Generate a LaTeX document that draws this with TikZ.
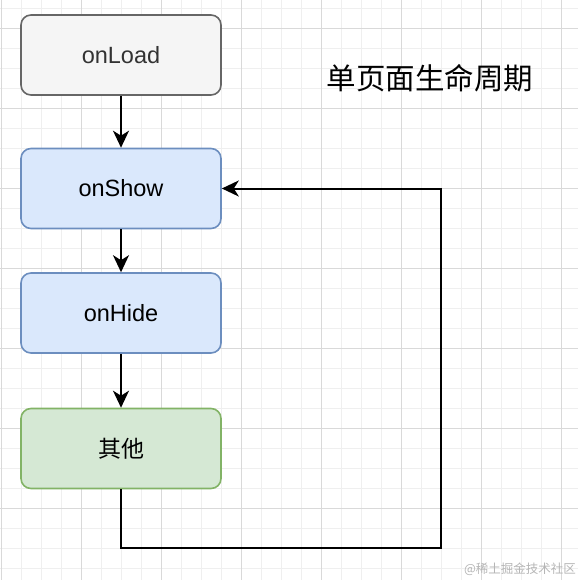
\documentclass[tikz,border=0pt]{standalone}
\usepackage{fontspec}
\setmainfont{Liberation Sans}
\newfontfamily\cjk{Noto Sans CJK SC}
\usetikzlibrary{arrows.meta}
\definecolor{gridminor}{HTML}{EFEFEF}
\definecolor{gridmajor}{HTML}{D9D9D9}
\definecolor{grayfill}{HTML}{F5F5F5}
\definecolor{graystroke}{HTML}{666666}
\definecolor{grayfont}{HTML}{333333}
\definecolor{bluefill}{HTML}{DAE8FC}
\definecolor{bluestroke}{HTML}{6C8EBF}
\definecolor{greenfill}{HTML}{D5E8D4}
\definecolor{greenstroke}{HTML}{82B366}
\definecolor{wmark}{HTML}{B5B5B5}
\tikzset{
  box/.style={rectangle, rounded corners=10pt, minimum width=200pt, minimum height=80pt, line width=1.6pt, inner sep=0pt, font=\fontsize{23.5}{27}\selectfont},
  graybox/.style={box, fill=grayfill, draw=graystroke, text=grayfont},
  bluebox/.style={box, fill=bluefill, draw=bluestroke, text=black},
  greenbox/.style={box, fill=greenfill, draw=greenstroke, text=black},
  arr/.style={line width=2pt, -{Stealth[length=17pt, width=16pt, inset=5pt]}}
}
\begin{document}
\begin{tikzpicture}[x=1pt, y=-1pt]
\useasboundingbox (0,0) rectangle (578,580);
% grid
\foreach \x in {1,21,...,577} \draw[gridminor, line width=0.8pt] (\x,0) -- (\x,580);
\foreach \y in {8,28,...,580} \draw[gridminor, line width=0.8pt] (0,\y) -- (578,\y);
\foreach \x in {1,81,...,577} \draw[gridmajor, line width=0.9pt] (\x,0) -- (\x,580);
\foreach \y in {28,108,...,580} \draw[gridmajor, line width=0.9pt] (0,\y) -- (578,\y);
% nodes
\node[graybox] (load) at (121,55) {onLoad};
\node[bluebox] (show) at (121,188.5) {onShow};
\node[bluebox] (hide) at (121,313) {onHide};
\node[greenbox, font=\cjk\fontsize{23}{27}\selectfont] (other) at (121,448.5) {其他};
\node[font=\cjk\fontsize{29.5}{34}\selectfont, text=black] (title) at (430,78) {单页面生命周期};
\node[font=\cjk\fontsize{12.5}{15}\selectfont, text=wmark] (wm) at (520,569) {@稀土掘金技术社区};
\coordinate (corner) at (441,548);
% connectors
\draw[arr] (load) -- (show);
\draw[arr] (show) -- (hide);
\draw[arr] (hide) -- (other);
\draw[arr] (other.south) |- (corner) |- (show.east);
\end{tikzpicture}
\end{document}
